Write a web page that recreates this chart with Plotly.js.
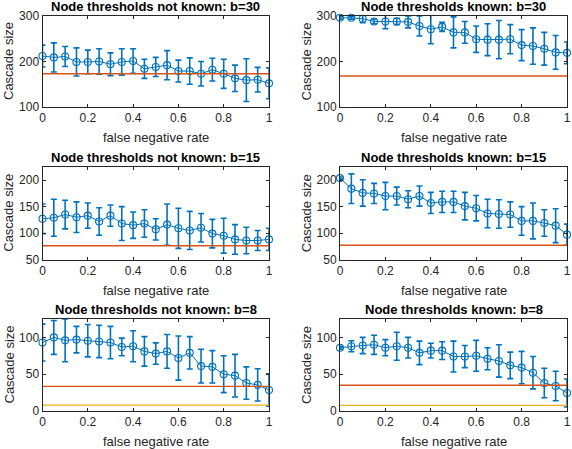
<!DOCTYPE html>
<html>
<head>
<meta charset="utf-8">
<script src="https://cdn.plot.ly/plotly-3.0.1.min.js"></script>
<style>html,body{margin:0;padding:0;background:#fff;}#chart{width:572px;height:449px;}</style>
</head>
<body>
<div id="chart"></div>
<script>
// ---- data ----
const fnr = [0, 0.05, 0.1, 0.15, 0.2, 0.25, 0.3, 0.35, 0.4, 0.45, 0.5, 0.55, 0.6, 0.65, 0.7, 0.75, 0.8, 0.85, 0.9, 0.95, 1];

const notKnown30 = [212, 209, 211, 199, 199, 200, 194, 199, 201, 184, 188, 192, 179, 179, 173, 182, 173, 163, 159, 160, 152];
const notKnown30Err = [24, 32, 22, 31, 26, 28, 25, 29, 27, 21, 21, 32, 24, 29, 27, 25, 32, 29, 47, 27, 34];
const known30 = [296, 296, 294, 288, 288, 288, 287, 278, 271, 276, 264, 264, 249, 248, 248, 249, 236, 234, 228, 220, 219];
const known30Err = [3, 3, 9, 5, 16, 7, 13, 22, 32, 10, 34, 24, 29, 35, 42, 32, 34, 40, 36, 37, 24];

const notKnown15 = [127, 129, 135, 130, 133, 122, 133, 118, 115, 118, 107, 116, 109, 105, 110, 99, 95, 88, 86, 86, 88];
const notKnown15Err = [28, 35, 27, 29, 24, 26, 20, 32, 25, 26, 20, 39, 38, 36, 27, 27, 33, 28, 25, 19, 21];
const known15 = [204, 184, 176, 175, 170, 170, 164, 170, 157, 159, 159, 151, 147, 137, 136, 135, 123, 123, 119, 114, 97];
const known15Err = [2, 28, 25, 19, 26, 17, 16, 19, 20, 20, 20, 26, 24, 27, 27, 24, 27, 34, 25, 32, 20];

const notKnown8 = [93, 100, 96, 97, 95.5, 94.5, 93, 87, 88, 81, 78, 81, 72, 79, 61, 60, 50, 48, 38, 35.5, 28.6];
const notKnown8Err = [25, 23, 29, 18, 22, 22, 22, 12, 21, 20, 14.5, 23, 30, 22, 23, 22, 25, 29, 22, 22, 22];
const known8 = [86, 88, 89, 90, 86, 88, 86, 79, 82, 82, 74, 74, 75, 71, 68, 62, 59, 52, 38, 34, 24.5];
const known8Err = [2, 7.5, 11, 13, 11, 19, 14, 16, 10, 12, 21, 15, 21, 15, 22, 18, 22, 22, 20, 20, 19];

const baselineOrange = [173, 168, 76, 77, 33.5, 35];
const baselineYellow = [null, null, null, null, 8, 7.7];

const titles = [
  "Node thresholds not known: b=30", "Node thresholds known: b=30",
  "Node thresholds not known: b=15", "Node thresholds known: b=15",
  "Node thresholds not known: b=8", "Node thresholds known: b=8"
];
const xLabel = "false negative rate";
const yLabel = "Cascade size";
const xTicks = [0, 0.2, 0.4, 0.6, 0.8, 1];
const xTickText = ["0", "0.2", "0.4", "0.6", "0.8", "1"];
const yRanges = [[100, 300], [100, 300], [50, 225], [50, 225], [0, 125], [0, 125]];
const yTicks = [[100, 200, 300], [100, 200, 300], [50, 100, 150, 200], [50, 100, 150, 200], [0, 50, 100], [0, 50, 100]];

const series = [notKnown30, known30, notKnown15, known15, notKnown8, known8];
const seriesErr = [notKnown30Err, known30Err, notKnown15Err, known15Err, notKnown8Err, known8Err];

// ---- layout geometry (px) ----
const W = 572, H = 449;
const colX = [[42.5, 269], [340, 567]];
const rowY = [[16, 107], [167, 259.5], [319, 411]];

const BLUE = "#0072BD", ORANGE = "#D95319", YELLOW = "#EDB120";
const FONT = "Liberation Sans, Arial, Helvetica, sans-serif";
const AX = "#262626";

const traces = [];
const layout = {
  width: W, height: H,
  margin: {l: 0, r: 0, t: 0, b: 0},
  paper_bgcolor: "#fff", plot_bgcolor: "#fff",
  showlegend: false,
  font: {family: FONT, color: AX},
  annotations: []
};

for (let i = 0; i < 6; i++) {
  const r = Math.floor(i / 2), c = i % 2;
  const xs = i === 0 ? "x" : "x" + (i + 1);
  const ys = i === 0 ? "y" : "y" + (i + 1);
  const xk = i === 0 ? "xaxis" : "xaxis" + (i + 1);
  const yk = i === 0 ? "yaxis" : "yaxis" + (i + 1);
  const xd = [colX[c][0] / W, colX[c][1] / W];
  const yd = [1 - rowY[r][1] / H, 1 - rowY[r][0] / H];

  layout[xk] = {
    domain: xd, anchor: ys, range: [0, 1], tickvals: xTicks, ticktext: xTickText,
    ticks: "inside", ticklen: 3, tickwidth: 1, tickcolor: AX,
    showline: true, linecolor: AX, linewidth: 1, mirror: "ticks",
    showgrid: false, zeroline: false, fixedrange: true,
    tickfont: {family: FONT, size: 12, color: AX}
  };
  layout[yk] = {
    domain: yd, anchor: xs, range: yRanges[i], tickvals: yTicks[i],
    ticks: "inside", ticklen: 3, tickwidth: 1, tickcolor: AX,
    showline: true, linecolor: AX, linewidth: 1, mirror: "ticks",
    showgrid: false, zeroline: false, fixedrange: true,
    tickfont: {family: FONT, size: 12, color: AX}
  };

  // line + error bars (clipped)
  traces.push({
    type: "scatter", mode: "lines", x: fnr, y: series[i], xaxis: xs, yaxis: ys,
    line: {color: BLUE, width: 1},
    error_y: {type: "data", array: seriesErr[i], visible: true, color: BLUE, thickness: 1.6, width: 3},
    hoverinfo: "skip"
  });
  // markers (not clipped, like MATLAB)
  traces.push({
    type: "scatter", mode: "markers", x: fnr, y: series[i], xaxis: xs, yaxis: ys,
    cliponaxis: false,
    marker: {symbol: "circle-open", size: 7, color: BLUE, line: {width: 1.1, color: BLUE}}
  });
  // baselines
  traces.push({
    type: "scatter", mode: "lines", x: [0, 1], y: [baselineOrange[i], baselineOrange[i]],
    xaxis: xs, yaxis: ys, line: {color: ORANGE, width: 1.4}, hoverinfo: "skip"
  });
  if (baselineYellow[i] !== null) {
    traces.push({
      type: "scatter", mode: "lines", x: [0, 1], y: [baselineYellow[i], baselineYellow[i]],
      xaxis: xs, yaxis: ys, line: {color: YELLOW, width: 1.4}, hoverinfo: "skip"
    });
  }

  const cx = (colX[c][0] + colX[c][1]) / 2;
  const cy = (rowY[r][0] + rowY[r][1]) / 2;
  // subplot title
  layout.annotations.push({
    text: "<b>" + titles[i] + "</b>", xref: "paper", yref: "paper",
    x: cx / W, y: 1 - (rowY[r][0] - 9.5) / H, xanchor: "center", yanchor: "middle",
    showarrow: false, font: {family: FONT, size: 13, color: "#000"}
  });
  // x label
  layout.annotations.push({
    text: xLabel, xref: "paper", yref: "paper",
    x: cx / W, y: 1 - (rowY[r][1] + 30.5) / H, xanchor: "center", yanchor: "middle",
    showarrow: false, font: {family: FONT, size: 13, color: AX}
  });
  // y label
  layout.annotations.push({
    text: yLabel, xref: "paper", yref: "paper", textangle: -90,
    x: (colX[c][0] - 34) / W, y: 1 - cy / H, xanchor: "center", yanchor: "middle",
    showarrow: false, font: {family: FONT, size: 13, color: AX}
  });
}

Plotly.newPlot("chart", traces, layout, {staticPlot: true, displayModeBar: false});
</script>
</body>
</html>
